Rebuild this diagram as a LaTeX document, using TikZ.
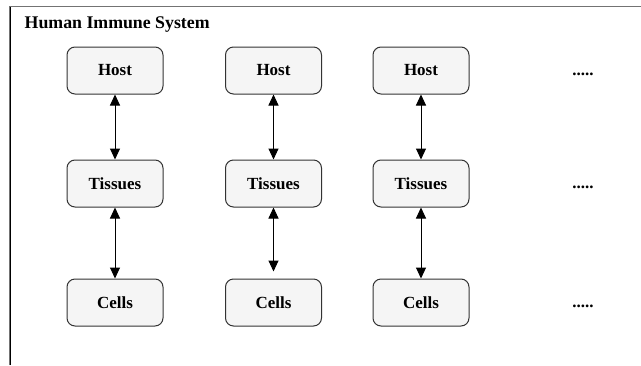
\documentclass[tikz,border=0pt]{standalone}
\usepackage{fontspec}
\setmainfont{Liberation Serif}
\usetikzlibrary{arrows.meta}
\begin{document}
\begin{tikzpicture}[x=1pt,y=-1pt,
  stage/.style={draw=black!80,fill=black!4,rounded corners=8pt,line width=1pt,
    minimum width=96pt,minimum height=47pt,inner sep=0pt,
    font=\fontsize{17}{18}\selectfont\bfseries},
  more/.style={font=\fontsize{17}{18}\selectfont\bfseries,inner sep=0pt},
  link/.style={line width=1pt,{Triangle[length=11pt,width=10pt]}-{Triangle[length=11pt,width=10pt]}}]
\useasboundingbox (0,0) rectangle (641,365);
\draw[black!55,line width=1.2pt] (10,365) coordinate (fb) -- (10,6.5) coordinate (fc) -- (641,6.5) coordinate (fr);
\draw[black,line width=1pt] (fb) -- (fc);
\node[anchor=base west,inner sep=0pt,font=\fontsize{17.8}{18}\selectfont\bfseries] (title) at (24.5,28) {Human Immune System};
\foreach \c/\x in {1/115,2/273.5,3/421}{
  \node[stage] (h\c) at (\x,70.5) {Host};
  \node[stage] (t\c) at (\x,183.5) {Tissues};
  \node[stage] (c\c) at (\x,302.5) {Cells};
}
\draw[link] (h1) -- (t1);
\draw[link] (h2) -- (t2);
\draw[link] (h3) -- (t3);
\draw[link] (t1) -- (c1);
\draw[link,shorten >=7pt] (t2) -- (c2);
\draw[link] (t3) -- (c3);
\node[more,anchor=base] (d1) at (583,75.5) {.....};
\node[more,anchor=base] (d2) at (583,188.5) {.....};
\node[more,anchor=base] (d3) at (583,307.5) {.....};
\end{tikzpicture}
\end{document}
